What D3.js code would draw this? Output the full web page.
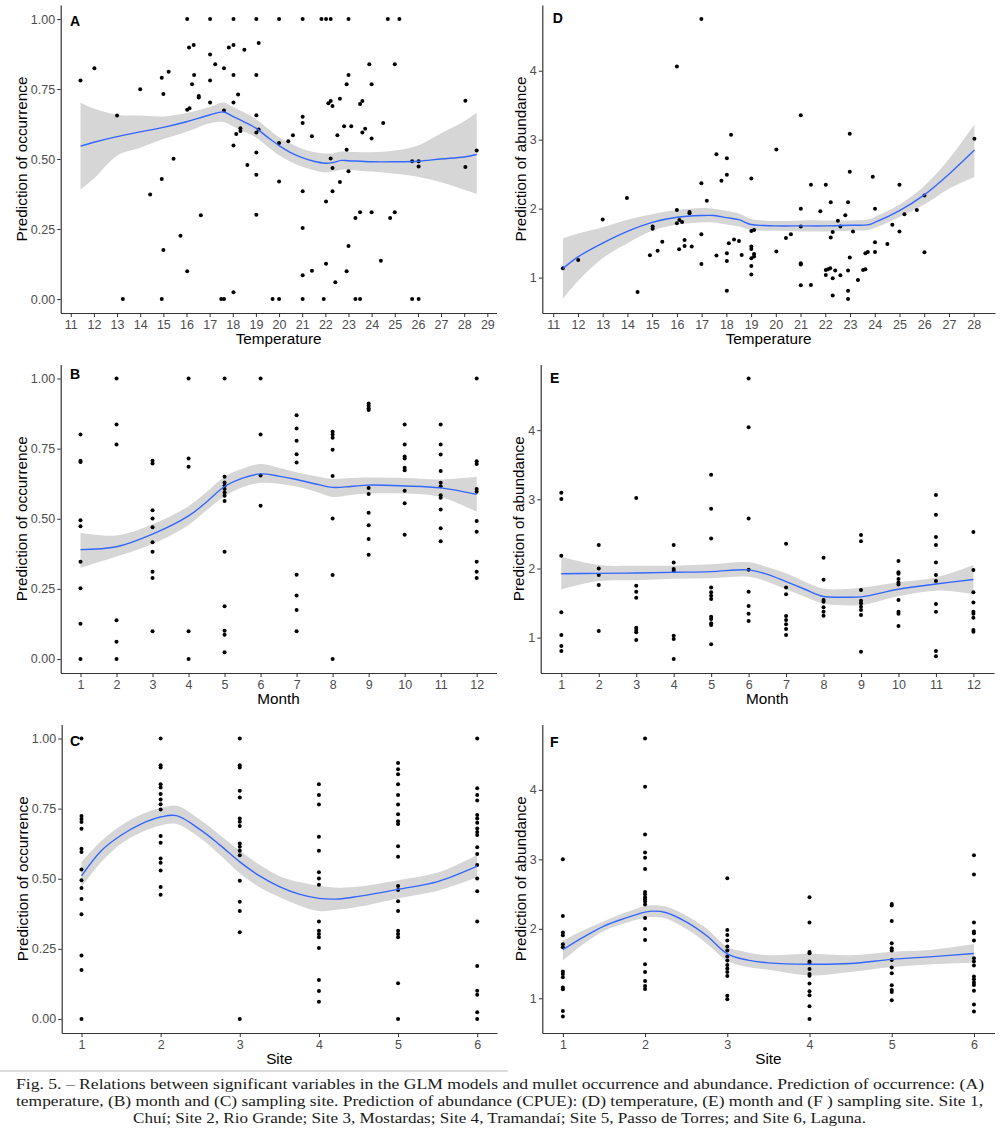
<!DOCTYPE html>
<html>
<head>
<meta charset="utf-8">
<script src="https://cdn.jsdelivr.net/npm/d3@7"></script>
<style>
  body { margin: 0; background: #fff; }
  svg { display: block; }
</style>
</head>
<body>
<div id="chart"></div>
<script>
// ---- data ----

// A: temperature vs prediction of occurrence
var tempOcc = [
  [11.42,0.78],[12.02,0.824],[13.0,0.655],[13.25,0],[14.0,0.749],[14.43,0.373],[14.93,0.79],[14.93,0.429],[14.93,0],
  [15.0,0.732],[15.0,0.175],[15.23,0.812],[15.44,0.501],[15.74,0.226],[16.03,1],[16.03,0.099],[16.11,0.898],[16.31,0.907],
  [16.33,0.8],[16.24,0.767],[16.03,0.676],[16.13,0.681],[16.53,0.725],[16.53,0.72],[16.62,0.299],[17.02,1],[17.02,0.873],
  [17.24,0.838],[17.02,0.78],[17.02,0.702],[17.62,0.824],[17.62,0.673],[17.5,0],[17.62,0],[17.83,0.898],[18.03,0.907],
  [18.03,1],[18.03,0.8],[18.03,0.702],[18.23,0.73],[18.03,0.548],[18.15,0.589],[18.33,0.61],[18.33,0.6],[18.03,0.024],
  [18.5,0.89],[18.63,0.479],[19.02,1],[19.12,0.914],[19.02,0.8],[19.02,0.656],[19.02,0.595],[19.12,0.605],[19.02,0.523],
  [19.02,0.444],[19.02,0.301],[19.72,0],[20.0,0],[20.0,1],[20.0,0.557],[20.0,0.42],[20.4,0.563],[20.6,0.585],[21.02,1],
  [21.02,0.651],[21.02,0.629],[21.02,0.385],[21.02,0.254],[21.02,0.085],[21.02,0],[21.42,0.581],[21.42,0.101],[21.83,1],
  [22.03,1],[22.23,1],[22.13,0.699],[22.23,0.707],[22.31,0.689],[22.63,0.715],[22.52,0.585],[22.23,0.502],[22.31,0.468],
  [22.31,0.385],[22.03,0.348],[22.63,0.418],[22.03,0.126],[22.43,0.06],[21.93,0],[23.0,1],[23.0,0.8],[22.92,0.767],
  [22.81,0.617],[23.12,0.617],[22.92,0.533],[23.0,0.456],[23.0,0.189],[22.92,0.099],[23.3,0.289],[23.5,0.31],[23.3,0],
  [23.5,0],[23.5,0.696],[23.6,0.707],[23.6,0.595],[23.72,0.608],[23.9,0.838],[24.0,0.767],[24.0,0.573],[24.0,0.31],
  [24.5,0.629],[24.4,0.137],[24.7,1],[25.2,1],[25.0,0.838],[25.0,0.31],[24.8,0.289],[25.75,0.492],[25.75,0],[26.03,0],
  [26.03,0.492],[26.03,0.473],[28.05,0.708],[28.05,0.471],[28.54,0.53]
];
// smooth: [x, fit, lower, upper]
var fitTempOcc = [
  [11.42,0.546,0.39,0.702],[12,0.56,0.43,0.68],[13,0.58,0.512,0.658],[14,0.597,0.54,0.655],[15,0.613,0.571,0.652],
  [16,0.633,0.597,0.664],[17,0.657,0.628,0.686],[17.6,0.668,0.632,0.702],[18,0.652,0.617,0.686],[18.5,0.632,0.597,0.666],
  [19,0.61,0.577,0.643],[19.5,0.578,0.545,0.61],[20,0.548,0.513,0.578],[20.5,0.523,0.49,0.555],[21,0.505,0.472,0.537],
  [21.5,0.492,0.46,0.525],[22,0.485,0.452,0.52],[22.3,0.487,0.455,0.52],[22.7,0.495,0.462,0.527],[23,0.494,0.461,0.526],
  [24,0.49,0.455,0.524],[25,0.49,0.447,0.53],[26,0.492,0.437,0.548],[27,0.5,0.417,0.592],[28,0.507,0.39,0.635],
  [28.54,0.516,0.375,0.665]
];

// D: temperature vs prediction of abundance
var tempAbund = [
  [11.39,1.135],[12.01,1.256],[13.0,1.842],[13.98,2.156],[14.41,0.792],[14.91,1.324],[15.02,1.74],[15.02,1.71],[15.22,1.39],
  [15.41,1.52],[16.0,1.982],[16.0,1.789],[16.1,1.837],[16.21,1.808],[16.09,1.411],[16.31,1.547],[16.31,1.46],[16.51,1.953],
  [16.51,1.934],[16.6,1.45],[16.0,4.063],[16.99,4.75],[16.99,2.369],[17.21,2.113],[16.99,1.629],[16.99,1.198],[17.6,2.79],
  [17.8,2.403],[17.6,1.319],[18.19,3.071],[18.02,2.732],[18.02,2.49],[18.1,1.498],[18.31,1.552],[18.51,1.532],[18.02,1.353],
  [18.02,1.242],[18.02,0.811],[18.62,1.329],[19.01,2.437],[19.01,1.677],[19.12,1.692],[19.01,1.45],[19.01,1.416],
  [19.12,1.344],[19.12,1.305],[19.01,1.28],[19.01,1.169],[19.01,1.044],[20.02,2.858],[20.02,1.377],[20.41,1.576],
  [20.61,1.629],[21.01,3.356],[21.01,1.997],[21.01,1.74],[21.01,1.208],[21.01,1.19],[21.01,0.889],[21.42,2.345],
  [21.42,0.894],[21.8,1.963],[22.02,2.345],[22.22,2.093],[22.22,1.58],[22.3,1.663],[22.02,1.111],[22.11,1.121],
  [22.2,1.135],[22.02,1.039],[22.3,0.99],[22.3,0.739],[22.4,1.102],[22.61,1.034],[22.51,1.823],[22.61,1.74],[22.81,1.905],
  [22.92,2.093],[22.99,3.085],[22.99,2.534],[23.12,1.668],[22.99,1.29],[22.92,1.102],[22.92,0.811],[22.92,0.69],
  [23.32,0.966],[23.53,1.111],[23.62,1.121],[23.62,1.353],[23.72,1.373],[23.92,2.461],[24.01,2.0],[24.01,1.513],
  [24.01,1.373],[24.51,1.489],[24.71,1.765],[25.0,2.345],[25.0,1.668],[25.2,1.919],[25.7,1.982],[26.01,2.19],[26.01,1.368],
  [28.03,3.013]
];
var fitTempAbund = [
  [11.39,1.13,0.69,1.57],[12,1.3,0.95,1.64],[13,1.5,1.28,1.73],[14,1.67,1.5,1.84],[15,1.8,1.68,1.92],[16,1.875,1.77,1.98],
  [17,1.9,1.8,2.01],[17.5,1.9,1.8,2.0],[18,1.87,1.77,1.97],[18.5,1.84,1.74,1.93],[19,1.77,1.69,1.85],[19.5,1.755,1.68,1.83],
  [20,1.75,1.68,1.82],[21,1.75,1.67,1.83],[22,1.75,1.67,1.83],[23,1.76,1.68,1.83],[23.7,1.765,1.69,1.84],[24,1.8,1.72,1.88],
  [25,1.97,1.88,2.06],[26,2.2,2.06,2.33],[27,2.5,2.29,2.72],[28.03,2.85,2.46,3.22]
];

// B: month vs prediction of occurrence (one list per month 1..12)
var occByMonth = [
  [0.80,0.707,0.702,0.495,0.473,0.347,0.252,0.126,0],
  [1.0,0.836,0.765,0.138,0.061,0],
  [0.707,0.697,0.53,0.501,0.47,0.416,0.382,0.311,0.289,0.099],
  [1.0,0.715,0.685,0.099,0],
  [1.0,0.65,0.629,0.618,0.606,0.594,0.582,0.563,0.382,0.188,0.101,0.086,0.024],
  [1.0,0.8,0.654,0.546],
  [0.869,0.822,0.778,0.73,0.701,0.3,0.226,0.175,0.099],
  [0.81,0.8,0.789,0.746,0.652,0.501,0.299,0],
  [0.911,0.903,0.894,0.888,0.61,0.588,0.521,0.477,0.428,0.372],
  [0.836,0.765,0.722,0.715,0.682,0.673,0.6,0.555,0.443],
  [0.836,0.765,0.729,0.67,0.628,0.616,0.584,0.575,0.533,0.466,0.42],
  [1.0,0.705,0.695,0.606,0.596,0.492,0.454,0.347,0.311,0.289]
];
var fitMonthOcc = [
  [1,0.39,0.325,0.45],[2,0.40,0.365,0.44],[3,0.445,0.41,0.48],[4,0.51,0.478,0.545],[4.5,0.56,0.53,0.595],
  [5,0.615,0.58,0.65],[5.5,0.645,0.612,0.678],[6,0.66,0.628,0.695],[6.5,0.652,0.625,0.682],[7,0.64,0.615,0.666],
  [7.5,0.625,0.598,0.652],[8,0.612,0.578,0.642],[8.5,0.615,0.585,0.645],[9,0.62,0.59,0.647],[10,0.617,0.59,0.645],
  [11,0.61,0.578,0.64],[12,0.587,0.525,0.65]
];

// E: month vs prediction of abundance
var abundByMonth = [
  [3.095,3.003,2.185,1.366,1.039,0.88,0.807],
  [2.339,2.0,1.905,1.76,1.096],
  [3.018,1.751,1.665,1.578,1.144,1.111,1.077,0.966],
  [2.339,2.088,1.992,1.963,1.029,0.981,0.692],
  [3.355,2.864,2.435,1.727,1.655,1.607,1.559,1.303,1.27,1.207,1.183,0.904],
  [4.746,4.043,2.724,1.982,1.665,1.457,1.347,1.241],
  [2.358,1.727,1.626,1.313,1.255,1.193,1.125,1.039],
  [2.156,1.838,1.544,1.52,1.438,1.376,1.318],
  [2.483,2.392,1.689,1.534,1.496,1.448,1.4,1.327,0.798],
  [2.108,1.944,1.925,1.847,1.799,1.77,1.544,1.376,1.347,1.169],
  [3.061,2.777,2.454,2.339,2.088,1.905,1.819,1.486,1.376,0.807,0.73],
  [2.526,1.977,1.655,1.51,1.376,1.347,1.289,1.111,1.087]
];
var fitMonthAbund = [
  [1,1.925,1.7,2.17],[2,1.93,1.82,2.05],[3,1.935,1.83,2.04],[4,1.945,1.85,2.04],[5,1.955,1.86,2.06],[6,1.98,1.88,2.09],
  [6.5,1.915,1.81,2.02],[7,1.81,1.7,1.93],[7.5,1.7,1.59,1.81],[8,1.595,1.49,1.71],[8.5,1.585,1.47,1.7],[9,1.59,1.47,1.72],
  [10,1.7,1.6,1.8],[11,1.775,1.68,1.87],[12,1.84,1.63,2.05]
];

// C: site vs prediction of occurrence (sites 1..6)
var occBySite = [
  [1.0,0.724,0.713,0.702,0.678,0.607,0.595,0.533,0.495,0.467,0.428,0.373,0.226,0.175,0],
  [1.0,0.905,0.897,0.837,0.825,0.802,0.783,0.766,0.747,0.652,0.628,0.572,0.557,0.529,0.471,0.443],
  [1.0,0.905,0.897,0.814,0.79,0.715,0.703,0.688,0.626,0.614,0.6,0.584,0.493,0.418,0.385,0.309,0],
  [0.837,0.799,0.765,0.65,0.6,0.523,0.501,0.479,0.348,0.315,0.303,0.291,0.253,0.139,0.1,0.061],
  [0.913,0.89,0.873,0.837,0.799,0.765,0.73,0.705,0.695,0.616,0.578,0.474,0.46,0.42,0.385,0.315,0.303,0.291,0.127,0],
  [1.0,0.823,0.799,0.779,0.727,0.715,0.7,0.679,0.667,0.656,0.612,0.588,0.549,0.501,0.455,0.348,0.189,0.101,0.086,0.024,0]
];
var fitSiteOcc = [
  [1,0.51,0.47,0.56],[1.25,0.6,0.56,0.635],[1.5,0.655,0.625,0.69],[1.75,0.695,0.665,0.728],[2,0.72,0.69,0.752],
  [2.2,0.725,0.695,0.76],[2.5,0.675,0.645,0.71],[2.75,0.62,0.585,0.655],[3,0.56,0.52,0.6],[3.25,0.51,0.47,0.55],
  [3.5,0.472,0.435,0.51],[3.75,0.445,0.405,0.488],[4,0.43,0.385,0.475],[4.25,0.428,0.39,0.468],[4.5,0.437,0.4,0.472],
  [5,0.462,0.43,0.495],[5.5,0.49,0.457,0.522],[6,0.545,0.505,0.585]
];

// F: site vs prediction of abundance
var abundBySite = [
  [3.002,2.186,1.946,1.907,1.778,1.734,1.384,1.35,1.302,1.154,1.13,0.818,0.736],
  [4.739,4.043,3.357,3.098,3.021,2.862,2.531,2.498,2.454,2.426,2.392,2.349,2.157,1.998,1.84,1.49,1.379,1.25,1.178,1.134],
  [2.728,1.984,1.912,1.83,1.744,1.686,1.6,1.542,1.48,1.427,1.379,1.322,1.038,0.986],
  [2.454,2.09,1.667,1.648,1.528,1.504,1.422,1.35,1.326,1.211,1.101,1.043,0.885,0.702],
  [2.358,2.334,2.114,1.792,1.72,1.686,1.552,1.442,1.36,1.187,1.12,1.091,0.971],
  [3.059,2.781,2.09,1.96,1.936,1.83,1.576,1.528,1.47,1.312,1.274,1.226,1.192,1.11,0.909,0.808]
];
var fitSiteAbund = [
  [1,1.7,1.54,1.83],[1.25,1.88,1.78,1.98],[1.5,2.04,1.97,2.11],[1.75,2.15,2.08,2.23],[2,2.24,2.16,2.33],
  [2.1,2.255,2.17,2.34],[2.25,2.235,2.15,2.32],[2.5,2.1,2.0,2.19],[2.75,1.9,1.79,2.0],[3,1.64,1.54,1.74],
  [3.25,1.55,1.45,1.66],[3.5,1.51,1.41,1.62],[4,1.49,1.33,1.64],[4.5,1.5,1.38,1.62],[5,1.56,1.45,1.67],
  [5.5,1.6,1.49,1.7],[6,1.645,1.51,1.78]
];

// tick labels
var tempTicksOcc = [11,12,13,14,15,16,17,18,19,20,21,22,23,24,25,26,27,28,29];
var tempTicksAbund = [11,12,13,14,15,16,17,18,19,20,21,22,23,24,25,26,27,28];
var monthTicks = [1,2,3,4,5,6,7,8,9,10,11,12];
var siteTicks = [1,2,3,4,5,6];
var occTicks = [0,0.25,0.5,0.75,1];
var abundTicks = [1,2,3,4];

var captionLines = [
  "Fig. 5. \u2013 Relations between significant variables in the GLM models and mullet occurrence and abundance. Prediction of occurrence: (A)",
  "temperature, (B) month and (C) sampling site. Prediction of abundance (CPUE): (D) temperature, (E) month and (F ) sampling site. Site 1,",
  "Chu\u00ed; Site 2, Rio Grande; Site 3, Mostardas; Site 4, Tramanda\u00ed; Site 5, Passo de Torres; and Site 6, Laguna."
];

// turn per-category lists into [x, y] points
function groupToPoints(groups) {
  var out = [];
  groups.forEach(function(vals, i) {
    vals.forEach(function(v) { out.push([i + 1, v]); });
  });
  return out;
}

var svg = d3.select("#chart")
  .append("svg")
    .attr("width", 1000)
    .attr("height", 1133)
    .style("font-family", "'Liberation Sans', Arial, sans-serif");

var panels = [
  {letter: "A", pts: tempOcc, fit: fitTempOcc, xTicks: tempTicksOcc, yTicks: occTicks, yFmt: d3.format(".2f"),
   xTitle: "Temperature", yTitle: "Prediction of occurrence",
   x0: 60.7, x1: 496.5, y0: 5, y1: 313, yTitleX: 22, lx: 70, ly: 26},
  {letter: "D", pts: tempAbund, fit: fitTempAbund, xTicks: tempTicksAbund, yTicks: abundTicks, yFmt: d3.format("d"),
   xTitle: "Temperature", yTitle: "Prediction of abundance",
   x0: 542.3, x1: 995, y0: 5, y1: 313, yTitleX: 521, lx: 552.7, ly: 23.3},
  {letter: "B", pts: groupToPoints(occByMonth), fit: fitMonthOcc, xTicks: monthTicks, yTicks: occTicks, yFmt: d3.format(".2f"),
   xTitle: "Month", yTitle: "Prediction of occurrence",
   x0: 60.7, x1: 496.5, y0: 364.5, y1: 673, yTitleX: 22, lx: 70, ly: 379.3},
  {letter: "E", pts: groupToPoints(abundByMonth), fit: fitMonthAbund, xTicks: monthTicks, yTicks: abundTicks, yFmt: d3.format("d"),
   xTitle: "Month", yTitle: "Prediction of abundance",
   x0: 540.7, x1: 994, y0: 364.5, y1: 673, yTitleX: 519, lx: 550, ly: 383.3},
  {letter: "C", pts: groupToPoints(occBySite), fit: fitSiteOcc, xTicks: siteTicks, yTicks: occTicks, yFmt: d3.format(".2f"),
   xTitle: "Site", yTitle: "Prediction of occurrence",
   x0: 61.7, x1: 497, y0: 724.5, y1: 1033, yTitleX: 22.5, lx: 70, ly: 745.7},
  {letter: "F", pts: groupToPoints(abundBySite), fit: fitSiteAbund, xTicks: siteTicks, yTicks: abundTicks, yFmt: d3.format("d"),
   xTitle: "Site", yTitle: "Prediction of abundance",
   x0: 542.3, x1: 994.5, y0: 724.5, y1: 1033, yTitleX: 521, lx: 550, ly: 746.7}
];

// ggplot style 5% expansion of the data range
function expand(ext) {
  var pad = (ext[1] - ext[0]) * 0.05;
  return [ext[0] - pad, ext[1] + pad];
}

panels.forEach(function(p) {
  var x = d3.scaleLinear()
    .domain(expand(d3.extent(p.pts, d => d[0])))
    .range([p.x0, p.x1]);
  var y = d3.scaleLinear()
    .domain(expand(d3.extent(p.pts, d => d[1])))
    .range([p.y1, p.y0]);

  var g = svg.append("g");

  var band = d3.area()
    .x(d => x(d[0]))
    .y0(d => y(d[2]))
    .y1(d => y(d[3]))
    .curve(d3.curveCatmullRom.alpha(0.5));

  g.append("path")
    .datum(p.fit)
    .attr("d", band)
    .attr("fill", "#d6d6d6");

  g.selectAll(".pt")
    .data(p.pts).enter()
    .append("circle")
      .attr("cx", d => x(d[0]))
      .attr("cy", d => y(d[1]))
      .attr("r", 2)
      .attr("fill", "#000");

  var line = d3.line()
    .x(d => x(d[0]))
    .y(d => y(d[1]))
    .curve(d3.curveCatmullRom.alpha(0.5));

  g.append("path")
    .datum(p.fit)
    .attr("d", line)
    .attr("fill", "none")
    .attr("stroke", "#3366FF")
    .attr("stroke-width", 1.4);

  // axes
  var xAxis = g.append("g")
    .attr("transform", "translate(0," + p.y1 + ")")
    .call(d3.axisBottom(x).tickValues(p.xTicks).tickFormat(d3.format("d"))
      .tickSize(4).tickSizeOuter(0).tickPadding(3));
  var yAxis = g.append("g")
    .attr("transform", "translate(" + p.x0 + ",0)")
    .call(d3.axisLeft(y).tickValues(p.yTicks).tickFormat(p.yFmt)
      .tickSize(3.5).tickSizeOuter(0).tickPadding(2));

  [xAxis, yAxis].forEach(function(a) {
    a.select(".domain").attr("stroke", "#333").attr("stroke-width", 1.2);
    a.selectAll(".tick line").attr("stroke", "#333").attr("stroke-width", 1);
    a.selectAll(".tick text")
      .attr("fill", "#4d4d4d")
      .style("font-size", "12.5px")
      .style("font-family", "'Liberation Sans', Arial, sans-serif");
  });

  // titles
  g.append("text")
    .attr("x", (p.x0 + p.x1) / 2)
    .attr("y", p.y1 + 31)
    .attr("text-anchor", "middle")
    .style("font-size", "15.3px")
    .attr("fill", "#000")
    .text(p.xTitle);

  g.append("text")
    .attr("transform", "translate(" + p.yTitleX + "," + ((p.y0 + p.y1) / 2) + ") rotate(-90)")
    .attr("text-anchor", "middle")
    .attr("dy", "0.35em")
    .style("font-size", "15.3px")
    .attr("fill", "#000")
    .text(p.yTitle);

  g.append("text")
    .attr("x", p.lx)
    .attr("y", p.ly)
    .style("font-size", "14px")
    .style("font-weight", "bold")
    .attr("fill", "#000")
    .text(p.letter);
});

// separator rule and caption
svg.append("line")
  .attr("x1", 0).attr("x2", 508)
  .attr("y1", 1071).attr("y2", 1071)
  .attr("stroke", "#d0d0d0")
  .attr("stroke-width", 1.5);

var capX = [16, 16, 133];
var capW = [968, 967, 733];
var capY = [1089.3, 1105.5, 1123.3];

svg.selectAll(".cap")
  .data(captionLines).enter()
  .append("text")
    .attr("x", (d, i) => capX[i])
    .attr("y", (d, i) => capY[i])
    .attr("textLength", (d, i) => capW[i])
    .attr("lengthAdjust", "spacingAndGlyphs")
    .style("font-family", "'Liberation Serif', 'Times New Roman', serif")
    .style("font-size", "15px")
    .attr("fill", "#1a1a1a")
    .text(d => d);
</script>
</body>
</html>
